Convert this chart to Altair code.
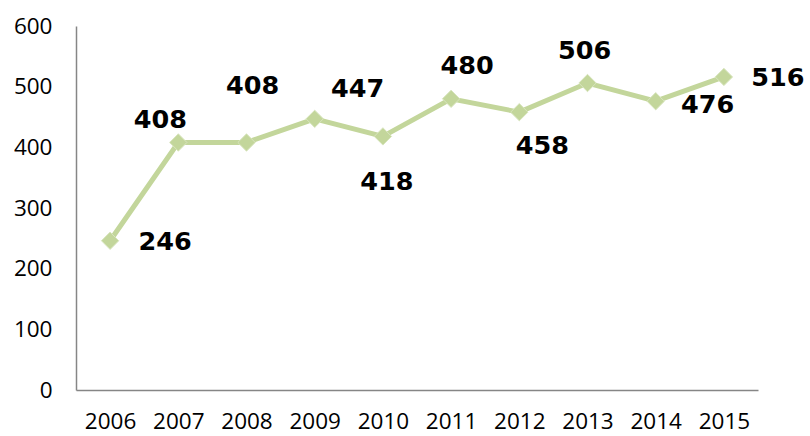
import altair as alt
import pandas as pd

years = ["2006", "2007", "2008", "2009", "2010", "2011", "2012", "2013", "2014", "2015"]
values = [246, 408, 408, 447, 418, 480, 458, 506, 476, 516]

# label offsets (dx, dy) in pixels relative to each point
label_dx = [55, -18, 6, 43, 4, 16, 23, -3, 52, 54]
label_dy = [1, -22, -56, -30, 46, -33, 34, -32, 4, 1]

df = pd.DataFrame({"year": years, "value": values})

GREEN = "#c3d69b"

x = alt.X("year:O", scale=alt.Scale(type="point", padding=0.5),
          axis=alt.Axis(title=None, labelAngle=0, ticks=False, domainColor="#868686",
                        domainWidth=1.5, labelFont="Open Sans", labelFontSize=22.5,
                        labelColor="#000000", labelPadding=20))
y = alt.Y("value:Q", scale=alt.Scale(domain=[0, 600], nice=False),
          axis=alt.Axis(title=None, values=[0, 100, 200, 300, 400, 500, 600], ticks=False,
                        grid=False, domainColor="#868686", domainWidth=1.5,
                        labelFont="Open Sans", labelFontSize=22.5, labelColor="#000000",
                        labelPadding=24))

line = alt.Chart(df).mark_line(color=GREEN, strokeWidth=5).encode(x=x, y=y)
points = alt.Chart(df).mark_point(shape="diamond", size=300, filled=True, fill=GREEN,
                                  stroke="#d8e5be", strokeWidth=1, opacity=1).encode(x=x, y=y)

layers = [line, points]
for i in range(len(years)):
    sub = df.iloc[[i]]
    t = alt.Chart(sub).mark_text(font="DejaVu Sans", fontWeight="bold", fontSize=25.5,
                                 color="#000000", dx=label_dx[i], dy=label_dy[i],
                                 align="center", baseline="middle").encode(
        x="year:O", y="value:Q", text="value:Q")
    layers.append(t)

chart = alt.layer(*layers).properties(
    width=682, height=364,
    background="#ffffff",
    autosize=alt.AutoSizeParams(type="none"),
    padding={"left": 76, "top": 26, "right": 52, "bottom": 46},
).configure_view(strokeWidth=0, stroke="transparent")

chart.save("out.html", embed_options={"renderer": "svg", "actions": False})
